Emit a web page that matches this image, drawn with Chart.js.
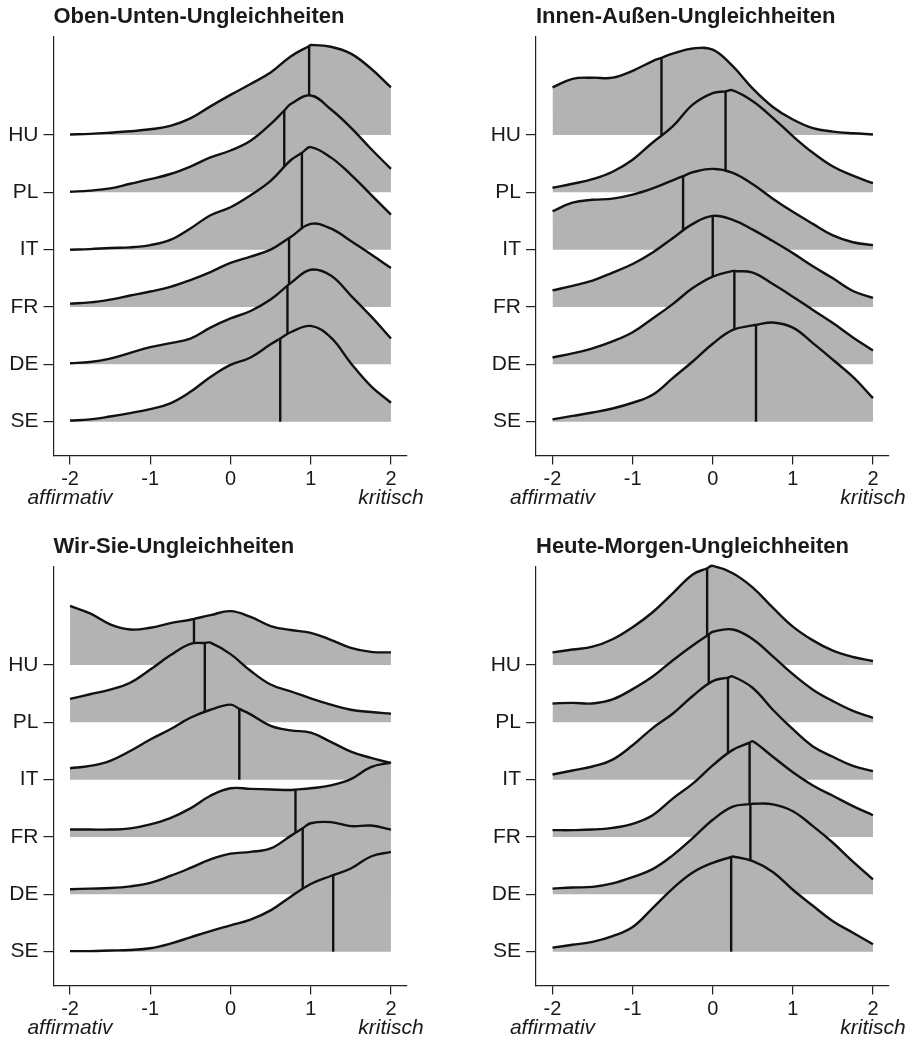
<!DOCTYPE html>
<html>
<head>
<meta charset="utf-8">
<script src="https://cdn.jsdelivr.net/npm/chart.js@4.4.1/dist/chart.umd.min.js"></script>
<style>
  body { margin: 0; background: #fff; }
  #wrap { position: relative; width: 915px; height: 1042px; }
  canvas { position: absolute; }
</style>
</head>
<body>
<div id="wrap">
  <canvas id="c0" width="457" height="512" style="left:0px;top:0px"></canvas>
  <canvas id="c1" width="433" height="512" style="left:482px;top:0px"></canvas>
  <canvas id="c2" width="457" height="512" style="left:0px;top:530px"></canvas>
  <canvas id="c3" width="433" height="512" style="left:482px;top:530px"></canvas>
</div>
<script>
const countries = ['HU', 'PL', 'IT', 'FR', 'DE', 'SE'];
const xGrid = [-2, -1.75, -1.5, -1.25, -1, -0.75, -0.5, -0.25, 0, 0.25, 0.5, 0.75, 1, 1.25, 1.5, 1.75, 2];
const xTicks = [-2, -1, 0, 1, 2];
const poleTicks = [-2, 2];
const poleLabels = ['affirmativ', 'kritisch'];
const titles = ['Oben-Unten-Ungleichheiten', 'Innen-Außen-Ungleichheiten', 'Wir-Sie-Ungleichheiten', 'Heute-Morgen-Ungleichheiten'];

// ridge heights (1 = distance between two rows) at xGrid, rows HU..SE
const obenUnten = [
  [0.01, 0.02, 0.04, 0.065, 0.1, 0.16, 0.29, 0.5, 0.7, 0.89, 1.09, 1.37, 1.57, 1.54, 1.42, 1.16, 0.83],
  [0.01, 0.03, 0.07, 0.15, 0.23, 0.32, 0.45, 0.61, 0.73, 0.9, 1.19, 1.54, 1.69, 1.45, 1.13, 0.76, 0.41],
  [0.0, 0.01, 0.03, 0.04, 0.08, 0.17, 0.37, 0.6, 0.74, 0.95, 1.2, 1.56, 1.79, 1.61, 1.31, 0.96, 0.61],
  [0.06, 0.08, 0.13, 0.2, 0.27, 0.35, 0.47, 0.61, 0.77, 0.88, 1.0, 1.22, 1.45, 1.37, 1.15, 0.92, 0.68],
  [0.02, 0.04, 0.1, 0.2, 0.3, 0.37, 0.45, 0.64, 0.8, 0.93, 1.13, 1.42, 1.65, 1.55, 1.2, 0.84, 0.45],
  [0.02, 0.04, 0.09, 0.15, 0.22, 0.32, 0.52, 0.78, 0.99, 1.12, 1.35, 1.56, 1.67, 1.47, 1.02, 0.62, 0.33]
];
const obenUntenMedian = [0.98, 0.67, 0.89, 0.73, 0.71, 0.62];

const innenAussen = [
  [0.83, 0.98, 1.0, 1.0, 1.12, 1.29, 1.42, 1.51, 1.49, 1.2, 0.81, 0.49, 0.27, 0.12, 0.06, 0.03, 0.01],
  [0.08, 0.15, 0.23, 0.36, 0.57, 0.87, 1.15, 1.53, 1.73, 1.78, 1.59, 1.3, 0.98, 0.69, 0.45, 0.29, 0.16],
  [0.67, 0.82, 0.87, 0.89, 0.96, 1.07, 1.21, 1.35, 1.41, 1.34, 1.14, 0.89, 0.66, 0.45, 0.25, 0.13, 0.08],
  [0.29, 0.37, 0.46, 0.6, 0.75, 0.95, 1.2, 1.45, 1.59, 1.52, 1.35, 1.15, 0.94, 0.71, 0.5, 0.28, 0.16],
  [0.12, 0.19, 0.28, 0.4, 0.56, 0.8, 1.05, 1.33, 1.53, 1.63, 1.6, 1.4, 1.18, 0.95, 0.72, 0.47, 0.24],
  [0.04, 0.1, 0.16, 0.23, 0.33, 0.47, 0.76, 1.05, 1.36, 1.6, 1.68, 1.73, 1.64, 1.37, 1.08, 0.78, 0.41]
];
const innenAussenMedian = [-0.64, 0.16, -0.37, 0, 0.27, 0.54];

const wirSie = [
  [1.03, 0.9, 0.71, 0.62, 0.65, 0.73, 0.79, 0.87, 0.94, 0.84, 0.68, 0.61, 0.56, 0.44, 0.3, 0.23, 0.22],
  [0.41, 0.49, 0.57, 0.69, 0.92, 1.17, 1.37, 1.39, 1.19, 0.9, 0.66, 0.54, 0.42, 0.31, 0.22, 0.18, 0.15],
  [0.2, 0.24, 0.33, 0.5, 0.7, 0.88, 1.08, 1.22, 1.31, 1.14, 0.94, 0.86, 0.82, 0.66, 0.49, 0.38, 0.29],
  [0.13, 0.13, 0.13, 0.15, 0.22, 0.33, 0.5, 0.72, 0.85, 0.84, 0.83, 0.82, 0.85, 0.9, 1.01, 1.22, 1.3],
  [0.09, 0.1, 0.11, 0.14, 0.2, 0.32, 0.46, 0.61, 0.71, 0.74, 0.8, 1.02, 1.24, 1.26, 1.19, 1.2, 1.13],
  [0.01, 0.01, 0.02, 0.03, 0.06, 0.14, 0.25, 0.36, 0.46, 0.56, 0.72, 0.96, 1.18, 1.32, 1.45, 1.66, 1.74]
];
const wirSieMedian = [-0.455, -0.32, 0.11, 0.81, 0.9, 1.28];

const heuteMorgen = [
  [0.22, 0.27, 0.32, 0.45, 0.66, 0.92, 1.25, 1.58, 1.73, 1.6, 1.35, 1.0, 0.67, 0.43, 0.25, 0.14, 0.07],
  [0.33, 0.34, 0.33, 0.4, 0.58, 0.8, 1.08, 1.34, 1.58, 1.62, 1.45, 1.15, 0.84, 0.57, 0.37, 0.2, 0.08],
  [0.09, 0.16, 0.23, 0.35, 0.6, 0.9, 1.15, 1.46, 1.72, 1.8, 1.6, 1.22, 0.88, 0.58, 0.4, 0.24, 0.15],
  [0.12, 0.12, 0.13, 0.16, 0.23, 0.38, 0.67, 0.93, 1.25, 1.52, 1.67, 1.4, 1.13, 0.9, 0.72, 0.54, 0.38],
  [0.1, 0.12, 0.13, 0.19, 0.3, 0.44, 0.68, 0.98, 1.3, 1.53, 1.58, 1.57, 1.45, 1.19, 0.9, 0.57, 0.26],
  [0.07, 0.12, 0.17, 0.27, 0.43, 0.76, 1.1, 1.38, 1.55, 1.66, 1.58, 1.39, 1.08, 0.8, 0.53, 0.33, 0.13]
];
const heuteMorgenMedian = [-0.07, -0.05, 0.19, 0.46, 0.47, 0.23];

const fillColor = '#b3b3b3';
const lineColor = '#111111';
const axisColor = '#222222';
const textColor = '#1a1a1a';

Chart.defaults.font.family = "'Liberation Sans', Arial, sans-serif";
Chart.defaults.color = textColor;

function ridgeDatasets(heights, medians) {
  const sets = [];
  // SE first: dataset 0 is drawn last, so lower rows cover the upper ones
  for (let i = countries.length - 1; i >= 0; i--) {
    const base = countries.length - 1 - i;
    const h = heights[i];
    const m = medians[i];
    const pts = xGrid.map((x, j) => ({ x: x, y: base + h[j] }));

    // curve height at the median so the line stops on the curve
    const k = xGrid.findIndex(x => x >= m);
    let top;
    if (Math.abs(xGrid[k] - m) < 1e-9) {
      top = base + h[k];
    } else {
      const t = (m - xGrid[k - 1]) / (xGrid[k] - xGrid[k - 1]);
      top = base + h[k - 1] + t * (h[k] - h[k - 1]);
      pts.splice(k, 0, { x: m, y: top });
    }

    sets.push({
      label: countries[i] + ' median',
      data: [{ x: m, y: base }, { x: m, y: top }],
      borderColor: lineColor,
      borderWidth: 2.4,
      pointRadius: 0,
      fill: false,
      clip: false
    });
    sets.push({
      label: countries[i],
      data: pts,
      borderColor: lineColor,
      borderWidth: 2.4,
      backgroundColor: fillColor,
      fill: { value: base },
      pointRadius: 0,
      tension: 0.4,
      clip: false
    });
  }
  return sets;
}

function makeChart(id, title, heights, medians, rightPad, yWidth) {
  new Chart(document.getElementById(id), {
    type: 'line',
    data: { datasets: ridgeDatasets(heights, medians) },
    options: {
      responsive: false,
      animation: false,
      events: [],
      layout: { padding: { left: 0, right: rightPad, top: 0, bottom: 0 } },
      plugins: {
        legend: { display: false },
        tooltip: { enabled: false },
        title: {
          display: true,
          text: title,
          align: 'start',
          fullSize: false,
          color: textColor,
          font: { size: 22, weight: 'bold' },
          padding: { top: 3.8, bottom: 6.5 }
        }
      },
      scales: {
        x: {
          type: 'linear',
          position: 'bottom',
          weight: 0,
          min: -2.206,
          max: 2.2,
          afterBuildTicks: s => { s.ticks = xTicks.map(v => ({ value: v })); },
          afterFit: s => { s.height = 30; },
          grid: { drawOnChartArea: false, tickLength: 9, color: axisColor, lineWidth: 1.2 },
          border: { color: axisColor, width: 1.2 },
          ticks: { font: { size: 20 }, color: textColor, padding: 3, maxRotation: 0, autoSkip: false }
        },
        pole: {
          type: 'linear',
          axis: 'x',
          position: 'bottom',
          weight: 1,
          min: -2.206,
          max: 2.2,
          afterBuildTicks: s => { s.ticks = poleTicks.map(v => ({ value: v })); },
          afterFit: s => { s.height = 26.5; },
          grid: { display: false, drawTicks: false },
          border: { display: false },
          ticks: {
            callback: v => poleLabels[poleTicks.indexOf(v)],
            font: { size: 21, style: 'italic' },
            color: textColor,
            padding: 0,
            maxRotation: 0,
            autoSkip: false
          }
        },
        y: {
          type: 'linear',
          min: -0.59,
          max: 6.715,
          afterBuildTicks: s => { s.ticks = countries.map((c, i) => ({ value: countries.length - 1 - i })); },
          afterFit: s => { s.width = yWidth; },
          grid: { drawOnChartArea: false, tickLength: 10, color: axisColor, lineWidth: 1.2 },
          border: { color: axisColor, width: 1.2 },
          ticks: {
            callback: v => countries[countries.length - 1 - v],
            font: { size: 21 },
            color: textColor,
            padding: 5
          }
        }
      }
    }
  });
}

makeChart('c0', titles[0], obenUnten, obenUntenMedian, 50, 53.5);
makeChart('c1', titles[1], innenAussen, innenAussenMedian, 26, 54);
makeChart('c2', titles[2], wirSie, wirSieMedian, 50, 53.5);
makeChart('c3', titles[3], heuteMorgen, heuteMorgenMedian, 26, 54);
</script>
</body>
</html>
